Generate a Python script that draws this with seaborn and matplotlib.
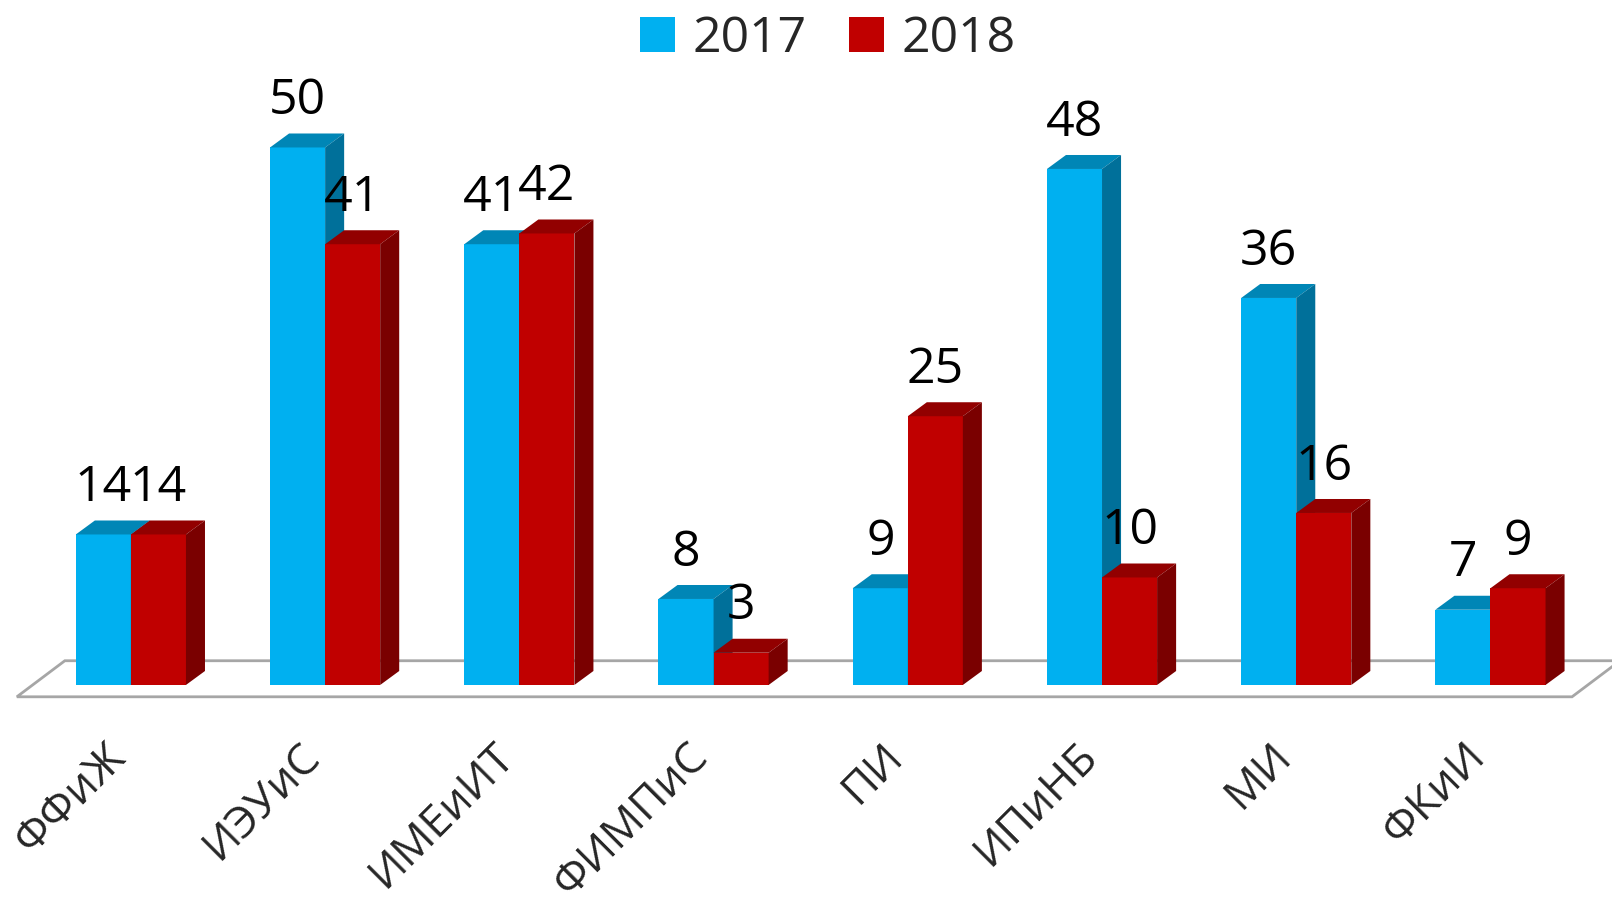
import matplotlib
matplotlib.use("Agg")
import matplotlib.pyplot as plt
from matplotlib.patches import Polygon, Patch
from matplotlib.transforms import ScaledTranslation
import numpy as np
import pandas as pd
import seaborn as sns

categories = ["ФФиЖ", "ИЭУиС", "ИМЕиИТ", "ФИМПиС", "ПИ", "ИПиНБ", "МИ", "ФКиИ"]
years = ["2017", "2018"]
values_2017 = [14, 50, 41, 8, 9, 48, 36, 7]
values_2018 = [14, 41, 42, 3, 25, 10, 16, 9]

front_colors = ["#00B0F0", "#C00000"]
top_colors = ["#0086B6", "#920000"]
side_colors = ["#00709A", "#7A0000"]

sns.set_theme(style="white")
plt.rcParams["font.family"] = ["Open Sans", "DejaVu Sans"]

df = pd.DataFrame({
    "cat": categories * 2,
    "year": [years[0]] * len(categories) + [years[1]] * len(categories),
    "value": values_2017 + values_2018,
})

fig = plt.figure(figsize=(16.12, 9.09), dpi=100)
ax = fig.add_axes([0.0089, 0.2228, 0.988, 0.6741])

sns.barplot(data=df, x="cat", y="value", hue="year", order=categories,
            hue_order=years, palette=front_colors, width=0.567, saturation=1,
            errorbar=None, linewidth=0, legend=False, ax=ax)

ax.set_xlim(-0.6, 7.6)
ax.set_ylim(-2, 55)

# 3d look: depth offset in data units
dx, dy = 0.098, 1.30

n = len(categories)
for k, p in enumerate(ax.patches[:2 * n]):
    s = k // n
    x0, w, h = p.get_x(), p.get_width(), p.get_height()
    z = 2 + s
    p.set_zorder(z)
    top = Polygon([(x0, h), (x0 + w, h), (x0 + w + dx, h + dy), (x0 + dx, h + dy)],
                  closed=True, facecolor=top_colors[s], edgecolor="none", zorder=z)
    side = Polygon([(x0 + w, 0), (x0 + w + dx, dy), (x0 + w + dx, h + dy), (x0 + w, h)],
                   closed=True, facecolor=side_colors[s], edgecolor="none", zorder=z)
    ax.add_patch(top)
    ax.add_patch(side)
    ax.annotate(f"{h:.0f}", (x0 + w / 2, h), xytext=(0, 24), textcoords="offset points",
                ha="center", va="baseline", fontsize=36, color="black", zorder=6,
                annotation_clip=False)

# floor
fx0, fx1 = -0.587, 7.42
fy0 = -1.1
fdx, fdy = dx * 2.52, dy * 2.58
floor = Polygon([(fx0, fy0), (fx1, fy0), (fx1 + fdx, fy0 + fdy), (fx0 + fdx, fy0 + fdy)],
                closed=True, facecolor="white", edgecolor="#A6A6A6", linewidth=2,
                zorder=1, clip_on=False)
ax.add_patch(floor)

ax.set_xticks(range(n))
ax.set_xticklabels(categories, rotation=45, ha="right", va="top",
                   rotation_mode="anchor", fontsize=32)
ax.tick_params(axis="x", length=0, pad=20)
shift = ScaledTranslation(-0.27, 0, fig.dpi_scale_trans)
for lbl in ax.get_xticklabels():
    lbl.set_transform(lbl.get_transform() + shift)
ax.set_yticks([])
ax.set_xlabel("")
ax.set_ylabel("")
for sp in ax.spines.values():
    sp.set_visible(False)

handles = [Patch(facecolor=c, edgecolor="none") for c in front_colors]
fig.legend(handles, years, loc="center", bbox_to_anchor=(828 / 1612, 1 - 39 / 909),
           ncol=2, frameon=False, fontsize=36, handlelength=0.7, handleheight=0.7,
           handletextpad=0.35, columnspacing=0.85)

fig.savefig("out.png", dpi=100, facecolor="white")
